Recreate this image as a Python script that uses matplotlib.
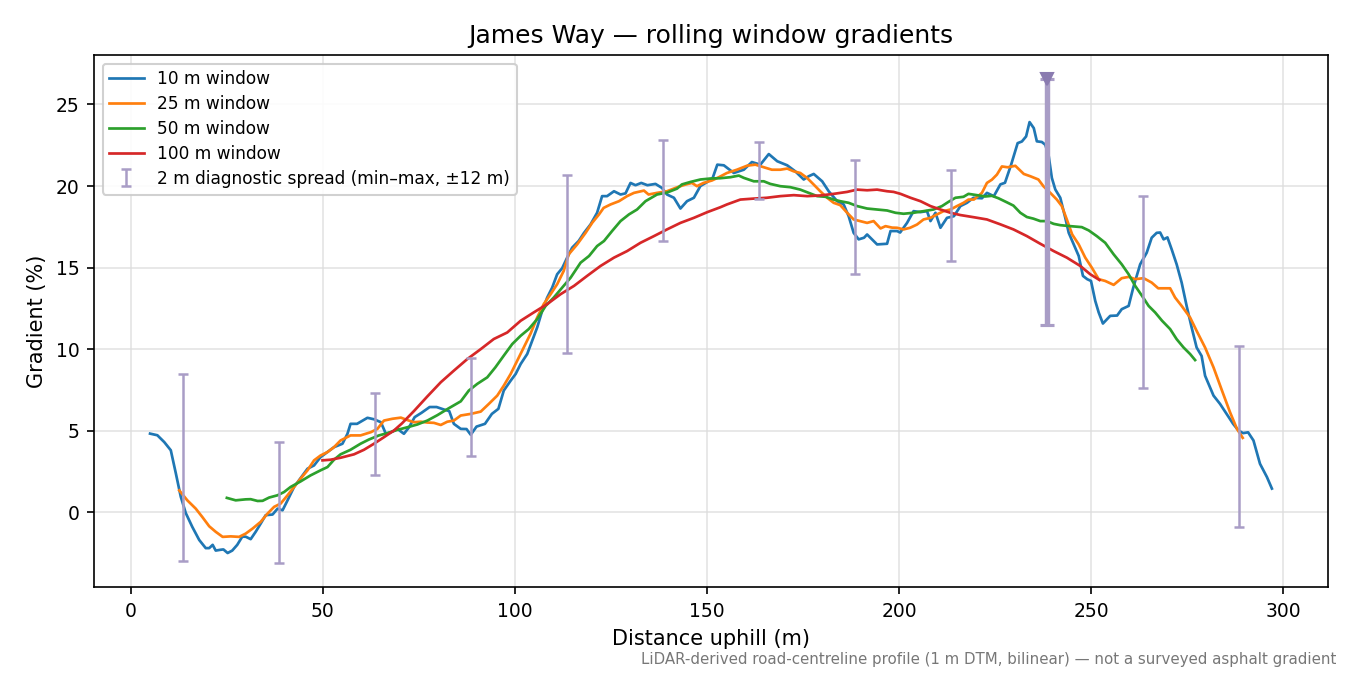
import matplotlib
matplotlib.use("Agg")
import matplotlib.pyplot as plt
import numpy as np

# ---- data ----
x10 = [5.0, 6.9, 8.7, 10.4, 11.7, 13.0, 14.3, 16.0, 17.8, 19.5, 20.4, 21.3, 22.1, 23.4, 24.1, 25.2, 26.4, 27.7, 29.0, 29.9,
       31.2, 32.5, 33.8, 35.1, 36.9, 38.2, 39.5, 40.8, 42.5, 44.7, 46.0, 47.7, 49.4, 51.2, 52.9, 55.1, 56.4, 57.2, 58.9, 61.6,
       63.3, 65.1, 66.4, 67.7, 69.4, 71.1, 72.4, 73.9, 75.7, 77.8, 79.6, 81.5, 82.9, 84.1, 85.9, 87.4, 88.5, 90.0, 92.2, 94.0,
       95.7, 97.1, 98.9, 100.2, 101.5, 103.2, 104.5, 105.8, 107.1, 108.4, 109.7, 111.0, 112.3, 113.6, 114.9, 116.6, 118.0,
       119.7, 121.4, 122.7, 124.0, 125.8, 127.5, 128.8, 130.1, 131.4, 132.9, 134.5, 136.6, 138.3, 139.6, 141.4, 143.1, 144.8,
       146.6, 148.3, 150.1, 151.5, 152.7, 154.4, 157.0, 159.6, 161.7, 163.9, 166.1, 168.3, 170.9, 173.0, 175.2, 176.5, 177.8,
       180.0, 181.7, 183.9, 185.6, 186.9, 188.2, 189.5, 190.9, 191.7, 194.3, 196.9, 197.8, 199.5, 200.3, 202.1, 203.8, 205.6,
       207.3, 208.2, 209.5, 210.8, 212.5, 214.3, 216.0, 217.7, 219.4, 221.6, 222.9, 224.7, 226.4, 227.6, 229.2, 230.9, 232.0,
       233.1, 234.0, 235.1, 235.9, 237.2, 238.1, 239.0, 239.8, 240.7, 242.0, 243.3, 244.2, 245.5, 246.8, 247.9, 249.0, 250.0,
       251.1, 252.0, 253.1, 255.0, 256.8, 258.0, 259.8, 261.0, 262.8, 264.5, 265.8, 267.1, 268.0, 268.9, 269.9, 271.0, 272.3,
       273.6, 274.9, 276.2, 277.5, 278.8, 279.7, 281.9, 283.6, 285.3, 287.0, 288.4, 289.6, 290.9, 292.3, 294.0, 295.8, 297.1]
g10 = [4.82, 4.72, 4.3, 3.8, 2.4, 0.95, -0.05, -0.9, -1.7, -2.2, -2.2, -2.0, -2.35, -2.3, -2.28, -2.5, -2.35, -2.0, -1.5, -1.5,
       -1.65, -1.2, -0.7, -0.18, -0.14, 0.22, 0.12, 0.73, 1.55, 2.26, 2.67, 2.87, 3.38, 3.69, 3.99, 4.2, 4.81, 5.42, 5.42, 5.79,
       5.7, 5.52, 4.81, 4.9, 5.11, 4.81, 5.2, 5.83, 6.1, 6.45, 6.45, 6.3, 6.2, 5.42, 5.11, 5.1, 4.75, 5.25, 5.42, 6.03,
       6.34, 7.46, 8.07, 8.48, 9.09, 9.7, 10.51, 11.33, 12.35, 13.16, 13.77, 14.59, 14.96, 15.61, 16.22, 16.63, 17.13,
       17.65, 18.36, 19.38, 19.38, 19.68, 19.48, 19.55, 20.19, 20.05, 20.19, 20.05, 20.13, 19.88, 19.48, 19.28, 18.62, 19.07,
       19.28, 20.0, 20.25, 20.5, 21.31, 21.27, 20.8, 21.0, 21.47, 21.31, 21.96, 21.52, 21.27, 20.9, 20.4, 20.6, 20.74,
       20.29, 19.68, 19.07, 18.87, 18.15, 17.13, 16.73, 16.83, 17.03, 16.42, 16.46, 17.24, 17.24, 17.15, 17.74, 18.46, 18.4,
       18.46, 17.85, 18.36, 17.44, 18.05, 18.15, 18.77, 18.97, 19.28, 19.25, 19.58, 19.38, 20.1, 20.2, 21.31, 22.63, 22.73,
       23.04, 23.92, 23.55, 22.74, 22.7, 22.53, 21.82, 20.5, 19.79, 19.28, 18.05, 17.13, 16.42, 15.71, 14.49, 14.29, 14.18,
       12.96, 12.25, 11.57, 12.04, 12.06, 12.45, 12.65, 13.77, 15.2, 15.91, 16.83, 17.13, 17.15, 16.73, 16.85, 16.12, 15.2,
       14.08, 12.65, 11.33, 10.1, 9.58, 8.37, 7.15, 6.64, 6.03, 5.42, 5.01, 4.85, 4.9, 4.4, 2.97, 2.16, 1.45]

x25 = [12.6, 14.7, 16.9, 18.6, 20.4, 22.1, 23.9, 26.0, 28.2, 29.9, 31.7, 33.8, 35.6, 37.3, 39.0, 40.8, 42.5, 44.2, 46.0, 47.7,
       49.4, 51.2, 52.9, 54.6, 57.2, 59.8, 62.5, 64.2, 65.9, 68.1, 70.3, 72.0, 73.7, 75.5, 77.2, 78.9, 80.7, 82.4, 84.1, 85.9,
       88.5, 91.1, 93.2, 95.4, 97.1, 98.9, 100.6, 102.3, 104.1, 105.8, 107.5, 109.3, 111.0, 112.7, 114.0, 116.2, 118.4, 120.1,
       121.9, 123.1, 124.9, 127.1, 129.2, 131.0, 133.6, 134.8, 137.0, 139.6, 142.2, 144.4, 146.1, 147.4, 149.1, 151.3, 153.1,
       155.2, 157.8, 160.5, 162.6, 164.8, 166.9, 169.1, 170.9, 172.6, 174.3, 176.1, 177.8, 179.5, 181.3, 183.0, 184.7, 186.5,
       188.2, 189.9, 191.7, 193.4, 195.2, 196.5, 198.2, 199.5, 201.2, 202.9, 204.7, 206.4, 208.2, 209.9, 211.6, 213.4, 215.1,
       216.8, 218.1, 219.5, 221.6, 222.9, 224.2, 225.5, 226.8, 228.3, 230.3, 232.5, 234.2, 236.3, 237.6, 239.4, 241.1, 242.4,
       243.7, 245.1, 246.8, 248.5, 250.2, 252.0, 253.7, 255.9, 258.0, 259.8, 261.5, 263.7, 265.8, 267.5, 270.6, 271.9, 273.6,
       275.8, 277.5, 279.7, 281.9, 284.1, 286.2, 288.0, 289.5]
g25 = [1.34, 0.73, 0.22, -0.29, -0.86, -1.2, -1.51, -1.48, -1.51, -1.31, -1.0, -0.59, -0.08, 0.33, 0.53, 1.04, 1.55, 2.06, 2.57, 3.18,
       3.48, 3.69, 3.99, 4.4, 4.71, 4.71, 4.91, 5.11, 5.62, 5.73, 5.8, 5.65, 5.52, 5.55, 5.5, 5.48, 5.35, 5.55, 5.62, 5.93,
       6.03, 6.17, 6.64, 7.15, 7.76, 8.48, 9.29, 10.1, 10.96, 11.94, 12.76, 13.37, 13.98, 14.79, 15.81, 16.42, 17.13, 17.74,
       18.26, 18.66, 18.87, 19.07, 19.38, 19.58, 19.72, 19.48, 19.58, 19.68, 19.92, 20.09, 20.19, 19.99, 20.19, 20.34, 20.54,
       20.8, 21.0, 21.25, 21.31, 21.15, 21.0, 21.0, 21.07, 20.9, 20.8, 20.49, 20.09, 19.68, 19.28, 18.97, 18.83, 18.36,
       17.95, 17.85, 17.74, 17.85, 17.4, 17.54, 17.45, 17.44, 17.34, 17.44, 17.64, 17.95, 18.05, 18.26, 18.46, 18.56, 18.77,
       18.97, 19.17, 19.17, 19.58, 20.19, 20.39, 20.7, 21.2, 21.15, 21.24, 20.74, 20.6, 20.4, 19.99, 19.58, 19.17, 18.77,
       17.95, 17.03, 16.42, 15.61, 15.0, 14.29, 14.18, 13.94, 14.35, 14.43, 14.29, 14.35, 14.08, 13.73, 13.73, 13.16, 12.65,
       11.94, 11.12, 10.1, 8.88, 7.46, 6.13, 5.11, 4.56]

x50 = [25.0, 27.3, 29.9, 31.2, 33.0, 34.3, 36.0, 38.2, 39.9, 41.6, 44.2, 46.8, 49.4, 51.2, 52.9, 54.6, 57.2, 59.8, 62.0, 64.6,
       66.8, 69.4, 72.0, 74.6, 77.2, 79.8, 82.6, 85.9, 88.0, 90.2, 92.8, 94.9, 97.1, 99.3, 101.5, 103.6, 105.8, 108.0, 110.1,
       112.3, 114.5, 117.1, 119.3, 121.4, 123.2, 125.3, 127.5, 129.7, 131.8, 134.0, 137.0, 139.6, 142.2, 143.5, 145.7, 148.3,
       150.9, 153.5, 156.1, 158.3, 159.6, 162.2, 164.8, 166.5, 169.1, 171.7, 174.3, 176.5, 178.7, 180.9, 183.0, 184.7, 186.9,
       189.1, 191.7, 194.3, 196.9, 199.1, 201.2, 203.8, 206.4, 209.0, 211.2, 212.9, 214.7, 216.8, 218.1, 220.3, 222.5, 224.2,
       225.9, 228.1, 229.8, 231.6, 233.3, 235.0, 236.8, 238.5, 240.3, 242.0, 244.6, 247.6, 249.4, 251.5, 253.7, 255.9, 258.0,
       259.8, 261.5, 263.3, 265.0, 266.7, 268.5, 270.6, 272.3, 274.1, 275.8, 277.1]
g50 = [0.88, 0.73, 0.79, 0.8, 0.69, 0.7, 0.9, 1.04, 1.24, 1.55, 1.89, 2.26, 2.57, 2.77, 3.22, 3.55, 3.83, 4.2, 4.46, 4.71,
       4.85, 5.05, 5.21, 5.38, 5.62, 5.95, 6.35, 6.8, 7.46, 7.87, 8.27, 8.88, 9.6, 10.31, 10.82, 11.23, 11.84, 12.65, 13.16,
       13.77, 14.38, 15.3, 15.71, 16.32, 16.63, 17.24, 17.85, 18.26, 18.56, 19.07, 19.48, 19.6, 19.84, 20.1, 20.25, 20.4,
       20.46, 20.48, 20.54, 20.64, 20.5, 20.29, 20.29, 20.13, 19.99, 19.93, 19.78, 19.58, 19.38, 19.34, 19.17, 19.07, 18.97,
       18.77, 18.62, 18.56, 18.5, 18.36, 18.3, 18.36, 18.46, 18.56, 18.77, 19.03, 19.28, 19.34, 19.52, 19.44, 19.36, 19.4,
       19.25, 19.0, 18.8, 18.36, 18.1, 18.0, 17.85, 17.85, 17.68, 17.6, 17.54, 17.48, 17.28, 16.93, 16.52, 15.81, 15.2,
       14.59, 13.88, 13.26, 12.65, 12.25, 11.74, 11.23, 10.61, 10.1, 9.7, 9.33]

x100 = [49.9, 52.0, 54.6, 58.1, 60.7, 63.3, 65.9, 68.5, 70.6, 73.7, 77.2, 80.7, 84.1, 87.6, 91.1, 94.5, 98.0, 101.5, 104.9, 108.4,
        111.9, 115.4, 118.8, 122.3, 125.8, 129.2, 132.7, 136.2, 139.6, 143.1, 146.6, 150.1, 153.5, 155.2, 158.7, 162.2, 165.6,
        169.1, 172.6, 176.1, 179.5, 183.0, 186.5, 189.1, 191.7, 194.3, 196.9, 198.6, 200.4, 203.0, 205.6, 208.2, 210.8, 213.4,
        216.0, 219.4, 222.9, 226.4, 229.8, 233.3, 236.8, 240.3, 243.7, 247.2, 249.8, 252.2]
g100 = [3.18, 3.22, 3.34, 3.55, 3.83, 4.2, 4.6, 5.01, 5.45, 6.2, 7.1, 7.97, 8.68, 9.39, 10.0, 10.62, 11.02, 11.74, 12.25, 12.76,
        13.37, 13.88, 14.49, 15.1, 15.61, 16.01, 16.52, 16.93, 17.34, 17.74, 18.05, 18.4, 18.7, 18.87, 19.17, 19.23, 19.28,
        19.38, 19.44, 19.38, 19.42, 19.52, 19.64, 19.78, 19.74, 19.78, 19.68, 19.64, 19.52, 19.28, 19.07, 18.77, 18.56, 18.36,
        18.22, 18.09, 17.95, 17.65, 17.34, 16.93, 16.46, 16.01, 15.61, 15.1, 14.59, 14.24]

# 2 m diagnostic spread (min-max) at sample stations
spread_x = [13.5, 38.5, 63.5, 88.5, 113.5, 138.5, 163.5, 188.5, 213.5, 238.5, 263.5, 288.5]
spread_lo = [-3.0, -3.1, 2.26, 3.42, 9.78, 16.6, 19.2, 14.6, 15.4, 11.45, 7.64, -0.92]
spread_hi = [8.5, 4.28, 7.33, 9.47, 20.7, 22.8, 22.7, 21.6, 21.0, 26.55, 19.4, 10.2]
highlight_idx = 9  # widest spread

# ---- plot ----
fig, ax = plt.subplots(figsize=(9, 4.5), dpi=150)

ax.plot(x10, g10, color="#1f77b4", lw=1.3, label="10 m window")
ax.plot(x25, g25, color="#ff7f0e", lw=1.3, label="25 m window")
ax.plot(x50, g50, color="#2ca02c", lw=1.3, label="50 m window")
ax.plot(x100, g100, color="#d62728", lw=1.3, label="100 m window")

sx = np.array(spread_x)
lo = np.array(spread_lo)
hi = np.array(spread_hi)
mid = (lo + hi) / 2
mask = np.arange(len(sx)) != highlight_idx
ebc = "#a99dc6"
ax.errorbar(sx[mask], mid[mask], yerr=[mid[mask] - lo[mask], hi[mask] - mid[mask]],
            fmt="none", ecolor=ebc, elinewidth=1.2, capsize=2.5, capthick=1.2,
            label="2 m diagnostic spread (min–max, ±12 m)")
h = highlight_idx
ax.errorbar([sx[h]], [mid[h]], yerr=[[mid[h] - lo[h]], [hi[h] - mid[h]]],
            fmt="none", ecolor=ebc, elinewidth=2.6, capsize=3.5, capthick=1.5)
ax.plot([sx[h]], [hi[h]], marker="v", color="#8a7bb0", markersize=6, linestyle="none")

ax.grid(True, color="#dddddd", linewidth=0.8, alpha=0.8)
ax.set_axisbelow(True)
ax.set_xlabel("Distance uphill (m)", fontsize=10)
ax.set_ylabel("Gradient (%)", fontsize=10)
ax.set_title("James Way — rolling window gradients", fontsize=12)
ax.tick_params(labelsize=9)
ax.set_yticks([0, 5, 10, 15, 20, 25])
ax.legend(loc="upper left", fontsize=8.2, framealpha=0.9, labelspacing=0.4)

fig.subplots_adjust(left=0.0696, right=0.9837, top=0.9185, bottom=0.1304)
fig.text(0.99, 0.012, "LiDAR-derived road-centreline profile (1 m DTM, bilinear) — not a surveyed asphalt gradient",
         ha="right", va="bottom", fontsize=7.2, color="#777777")

fig.savefig("out.png", dpi=150)
